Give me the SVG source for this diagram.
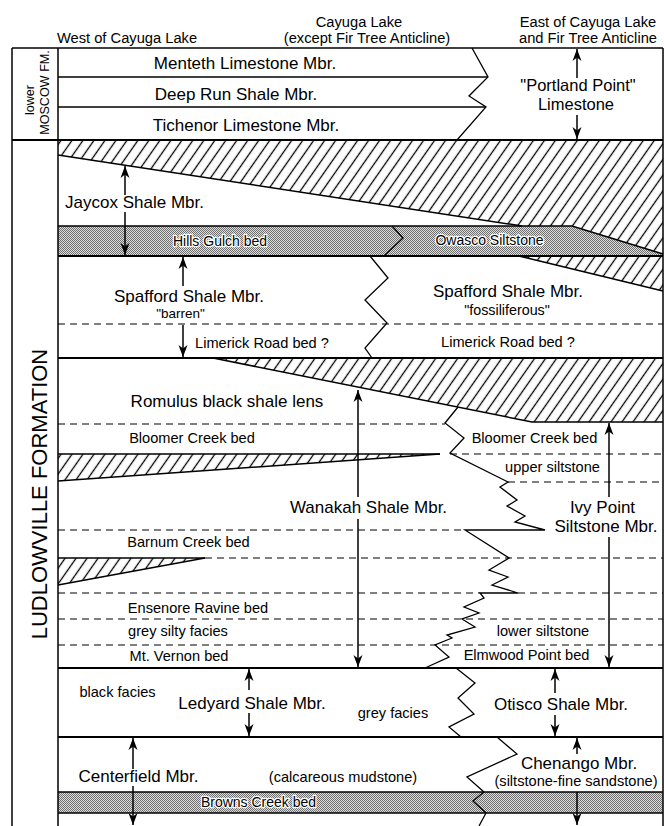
<svg xmlns="http://www.w3.org/2000/svg" width="664" height="826" viewBox="0 0 664 826">
<defs>
<pattern id="hatch" patternUnits="userSpaceOnUse" width="9" height="9" patternTransform="rotate(35)">
<line x1="4.5" y1="-1" x2="4.5" y2="10" stroke="#000" stroke-width="1.3"/>
</pattern>
<pattern id="stip" patternUnits="userSpaceOnUse" width="2" height="2">
<rect width="2" height="2" fill="#dcdcdc"/><rect width="1" height="1" fill="#707070"/><rect x="1" y="1" width="1" height="1" fill="#707070"/>
</pattern>
<marker id="ah" viewBox="-13 -5 14 10" markerWidth="14" markerHeight="10" refX="0" refY="0" orient="auto" markerUnits="userSpaceOnUse">
<path d="M0,0 L-12,-4.5 L-8.5,0 L-12,4.5 Z" fill="#000"/>
</marker>
</defs>
<style>
.t{font-family:"Liberation Sans",Arial,Helvetica,sans-serif;fill:#000;text-anchor:middle}
.big{font-size:17px}
.md{font-size:14.6px}
.hd{font-size:14.7px}
.ln{stroke:#000;stroke-width:1.5;fill:none}
.th{stroke:#000;stroke-width:2;fill:none}
.zz{stroke:#000;stroke-width:1.3;fill:none;stroke-linejoin:miter}
.ds{stroke:#000;stroke-width:1.2;fill:none;stroke-dasharray:7 5}
.ar{stroke:#000;stroke-width:1.5;fill:none;marker-end:url(#ah)}
.halo{stroke:#fff;stroke-width:2.5;paint-order:stroke;stroke-linejoin:round}
</style>
<rect width="664" height="826" fill="#fff"/>

<g id="fills">
<polygon points="58,140 663,140 663,254 572,226 522,226 58,155" fill="url(#hatch)"/>
<polygon points="58,226 572,226 663,254 663,256 58,256" fill="url(#stip)"/>
<polygon points="519,256 663,256 663,291" fill="url(#hatch)"/>
<polygon points="213,358 663,358 663,422 532,422" fill="url(#hatch)"/>
<polygon points="58,454 440,454 58,481" fill="url(#hatch)"/>
<polygon points="58,558 205,558 58,585" fill="url(#hatch)"/>
<rect x="58" y="792" width="605" height="21" fill="url(#stip)"/>
</g>

<g id="frame">
<line class="ln" x1="12" y1="48" x2="663" y2="48"/>
<line class="ln" x1="12" y1="48" x2="12" y2="826"/>
<line class="ln" x1="58" y1="48" x2="58" y2="826"/>
<line class="ln" x1="663" y1="48" x2="663" y2="826"/>
<line class="th" x1="12" y1="140" x2="663" y2="140"/>
</g>

<g id="boundaries">
<line class="ln" x1="58" y1="77" x2="488" y2="77"/>
<line class="ln" x1="58" y1="107" x2="486" y2="107"/>
<polyline class="zz" points="472,48 488,77 469,96 486,107 457,140"/>
<polyline class="ln" points="58,155 522,226 572,226 663,254"/>
<line class="ln" x1="58" y1="226" x2="522" y2="226"/>
<polyline class="zz" points="392,226 403,238 384,256"/>
<line class="th" x1="58" y1="256" x2="663" y2="256"/>
<line class="ln" x1="519" y1="256" x2="663" y2="291"/>
<polyline class="zz" points="370,256 388,278 365,300 387,323 365,348 372,358"/>
<line class="ds" x1="58" y1="324" x2="663" y2="324"/>
<line class="th" x1="58" y1="358" x2="663" y2="358"/>
<polyline class="ln" points="213,358 532,422 663,422"/>
<line class="ds" x1="58" y1="424" x2="445" y2="424"/>
<line class="ln" x1="58" y1="454" x2="440" y2="454"/>
<line class="ln" x1="58" y1="481" x2="440" y2="454"/>
<line class="ds" x1="450" y1="454" x2="663" y2="454"/>
<line class="ds" x1="508" y1="482" x2="663" y2="482"/>
<line class="ds" x1="58" y1="530" x2="465" y2="530"/>
<line class="ln" x1="58" y1="558" x2="205" y2="558"/>
<line class="ln" x1="58" y1="585" x2="205" y2="558"/>
<line class="ds" x1="205" y1="558" x2="663" y2="558"/>
<line class="ds" x1="58" y1="593" x2="480" y2="593"/>
<line class="ds" x1="518" y1="593" x2="663" y2="593"/>
<line class="ds" x1="58" y1="619" x2="663" y2="619"/>
<line class="ds" x1="58" y1="645" x2="663" y2="645"/>
<polyline class="zz" points="458,407 445,423 464,438 450,453 508,482 500,487 517,500 507,506 525,516 515,522 545,530 465,530 509,558 489,570 508,577 492,585 518,593 480,593 484,598 464,607 479,613 462,619 475,627 447,635 452,638 435,645 449,657 425,668"/>
<line class="th" x1="58" y1="668" x2="663" y2="668"/>
<polyline class="zz" points="456,668 475,683 458,698 474,714 449,727 461,737"/>
<line class="th" x1="58" y1="737" x2="663" y2="737"/>
<polyline class="zz" points="497,737 517,754 467,777 484,792 473,801 486,813 479,826"/>
<line class="ln" x1="58" y1="792" x2="663" y2="792"/>
<line class="ln" x1="58" y1="813" x2="663" y2="813"/>
</g>

<g id="connectors">
<line class="ar" x1="577" y1="78" x2="577" y2="49"/>
<line class="ar" x1="577" y1="115" x2="577" y2="139"/>
<line class="ar" x1="125" y1="195" x2="125" y2="166"/>
<line class="ar" x1="125" y1="212" x2="125" y2="255"/>
<line class="ar" x1="183" y1="286" x2="183" y2="257"/>
<line class="ar" x1="183" y1="325" x2="183" y2="357"/>
<line class="ar" x1="358" y1="497" x2="358" y2="390"/>
<line class="ar" x1="358" y1="519" x2="358" y2="667"/>
<line class="ar" x1="609" y1="497" x2="609" y2="423"/>
<line class="ar" x1="609" y1="537" x2="609" y2="667"/>
<line class="ar" x1="249" y1="690" x2="249" y2="669"/>
<line class="ar" x1="249" y1="713" x2="249" y2="736"/>
<line class="ar" x1="555" y1="693" x2="555" y2="669"/>
<line class="ar" x1="555" y1="715" x2="555" y2="736"/>
<line class="ar" x1="133" y1="769" x2="133" y2="738"/>
<line class="ar" x1="133" y1="786" x2="133" y2="825"/>
<line class="ar" x1="577" y1="754" x2="577" y2="738"/>
<line class="ar" x1="577" y1="792" x2="577" y2="825"/>
</g>

<g id="headers">
<text class="t hd" x="359" y="27">Cayuga Lake</text>
<text class="t hd" x="367" y="43">(except Fir Tree Anticline)</text>
<text class="t hd" x="127" y="43">West of Cayuga Lake</text>
<text class="t hd" x="588" y="27">East of Cayuga Lake</text>
<text class="t hd" x="588" y="43">and Fir Tree Anticline</text>
</g>

<g id="moscow-label">
<text class="t" style="font-size:12.6px" transform="translate(33.5,100) rotate(-90)">lower</text>
<text class="t" style="font-size:12.6px" transform="translate(49,92.5) rotate(-90)">MOSCOW FM.</text>
</g>
<g id="ludlowville-label">
<text class="t" style="font-size:22px" transform="translate(46.5,494) rotate(-90)">LUDLOWVILLE FORMATION</text>
</g>

<g id="menteth"><text class="t big" x="245" y="69">Menteth Limestone Mbr.</text></g>
<g id="deep-run"><text class="t big" x="236" y="100">Deep Run Shale Mbr.</text></g>
<g id="tichenor"><text class="t big" x="246" y="131">Tichenor Limestone Mbr.</text></g>
<g id="portland-point">
<text class="t" style="font-size:16.5px" x="578" y="91">"Portland Point"</text>
<text class="t" style="font-size:16.5px" x="576" y="110">Limestone</text>
</g>
<g id="jaycox"><text class="t big" x="134.5" y="208">Jaycox Shale Mbr.</text></g>
<g id="hills-gulch"><text class="t halo" style="font-size:14px" x="220" y="246">Hills Gulch bed</text></g>
<g id="owasco"><text class="t halo" style="font-size:14px" x="489.5" y="245">Owasco Siltstone</text></g>
<g id="spafford-west">
<text class="t big" x="189" y="302">Spafford Shale Mbr.</text>
<text class="t" style="font-size:13.5px" x="180.5" y="318">"barren"</text>
</g>
<g id="limerick-west"><text class="t md" x="262" y="348">Limerick Road bed ?</text></g>
<g id="spafford-east">
<text class="t big" x="508" y="297">Spafford Shale Mbr.</text>
<text class="t" style="font-size:14.3px" x="507" y="315">"fossiliferous"</text>
</g>
<g id="limerick-east"><text class="t md" x="508" y="347">Limerick Road bed ?</text></g>
<g id="romulus"><text class="t big" x="227" y="407">Romulus black shale lens</text></g>
<g id="bloomer-west"><text class="t md" x="192" y="443">Bloomer Creek bed</text></g>
<g id="bloomer-east"><text class="t md" x="534.5" y="443">Bloomer Creek bed</text></g>
<g id="upper-siltstone"><text class="t md" x="552.5" y="472">upper siltstone</text></g>
<g id="wanakah"><text class="t big" x="368.5" y="513">Wanakah Shale Mbr.</text></g>
<g id="ivy-point">
<text class="t big" x="602.5" y="513">Ivy Point</text>
<text class="t big" x="606" y="532">Siltstone Mbr.</text>
</g>
<g id="barnum"><text class="t md" x="188.5" y="547">Barnum Creek bed</text></g>
<g id="ensenore"><text class="t md" x="198" y="613">Ensenore Ravine bed</text></g>
<g id="grey-silty"><text class="t md" x="178" y="636">grey silty facies</text></g>
<g id="mt-vernon"><text class="t md" x="179" y="661">Mt. Vernon bed</text></g>
<g id="lower-siltstone"><text class="t md" x="543" y="636">lower siltstone</text></g>
<g id="elmwood"><text class="t md" x="526.5" y="660">Elmwood Point bed</text></g>
<g id="black-facies"><text class="t md" x="117.5" y="697">black facies</text></g>
<g id="ledyard"><text class="t big" x="252" y="709">Ledyard Shale Mbr.</text></g>
<g id="grey-facies"><text class="t md" x="393" y="718">grey facies</text></g>
<g id="otisco"><text class="t big" x="561" y="710">Otisco Shale Mbr.</text></g>
<g id="centerfield"><text class="t big" x="138.5" y="782">Centerfield Mbr.</text></g>
<g id="calcareous"><text class="t md" x="343" y="782">(calcareous mudstone)</text></g>
<g id="chenango">
<text class="t big" x="579" y="769">Chenango Mbr.</text>
<text class="t md" x="576" y="786">(siltstone-fine sandstone)</text>
</g>
<g id="browns-creek"><text class="t halo" style="font-size:14px" x="258.5" y="807">Browns Creek bed</text></g>
</svg>
